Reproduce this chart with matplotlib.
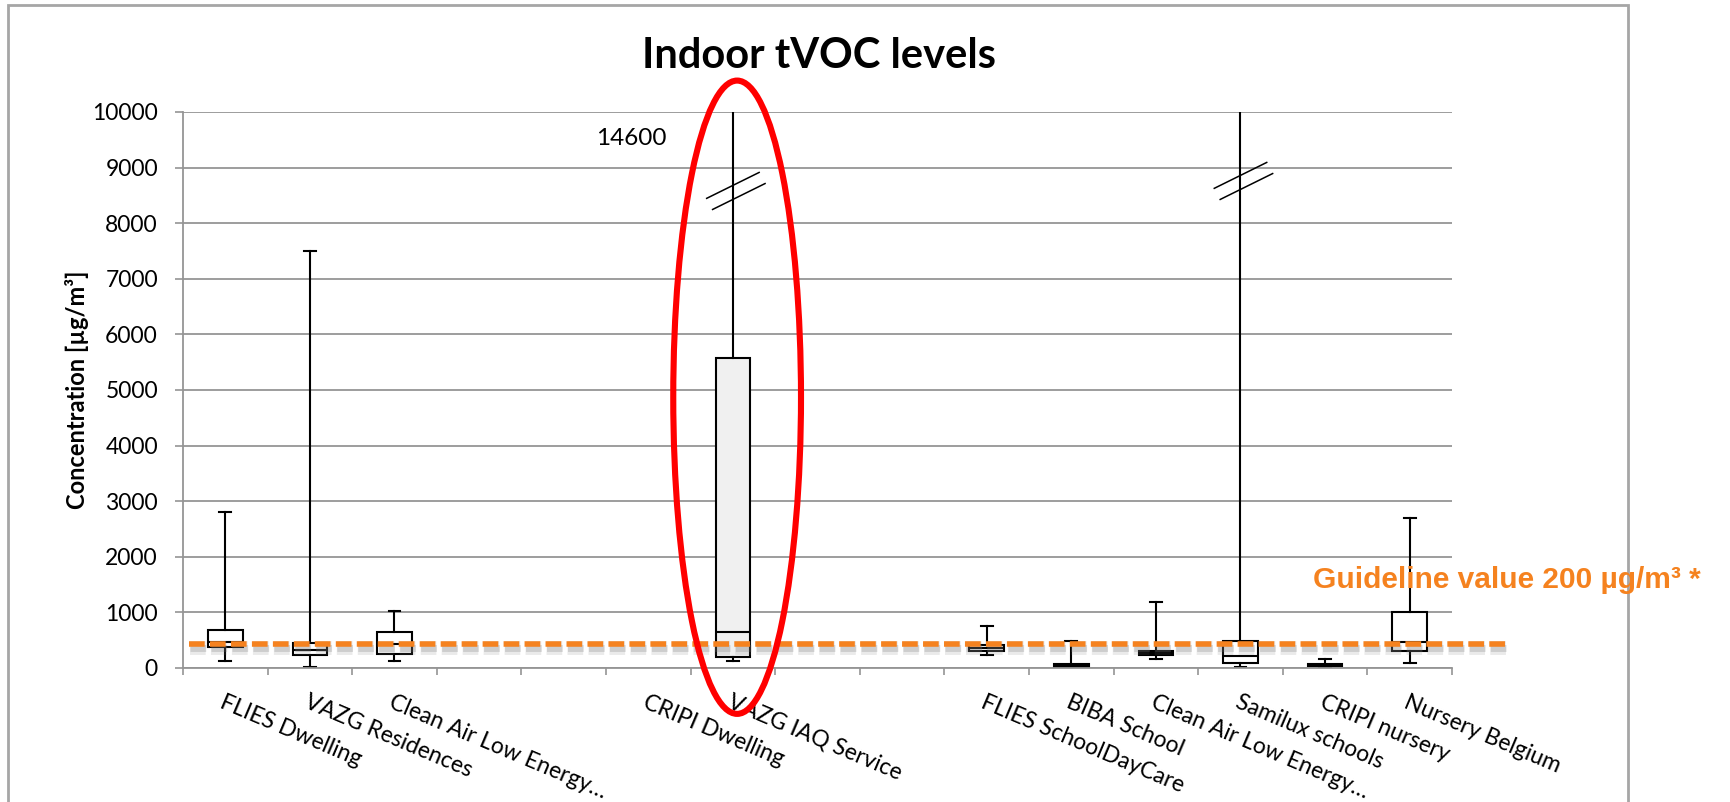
import numpy as np
import matplotlib
matplotlib.use('Agg')
import matplotlib.pyplot as plt
import matplotlib.patheffects as pe
from matplotlib.patches import Ellipse, Rectangle

# data (None = no box drawn for that slot)
categories = ['FLIES Dwelling', 'VAZG Residences', 'Clean Air Low Energy…', '', '',
              'CRIPI Dwelling', 'VAZG IAQ Service', '', '',
              'FLIES SchoolDayCare', 'BIBA School', 'Clean Air Low Energy…',
              'Samilux schools', 'CRIPI nursery', 'Nursery Belgium']
whis_lo = [130, 10, 130, None, None, None, 130, None, None, 240, 10, 170, 20, 20, 90]
q1 = [370, 230, 250, None, None, None, 200, None, None, 300, 25, 230, 90, 30, 310]
median = [470, 320, 430, None, None, None, 650, None, None, 360, 45, 270, 215, 55, 465]
q3 = [680, 450, 650, None, None, None, 5575, None, None, 420, 65, 310, 490, 80, 1010]
whis_hi = [2800, 7500, 1030, None, None, None, 14600, None, None, 760, 490, 1180, 12500, 170, 2700]
box_fill = ['white', 'white', 'white', None, None, None, '#f0f0f0', None, None,
            'white', 'white', 'white', 'white', 'white', 'white']

guideline = 440
guide_text = 'Guideline value 200 µg/m³ *'
orange = '#F5821F'
grid_col = '#959595'

plt.rcParams['font.family'] = ['Lato', 'DejaVu Sans']
plt.rcParams['lines.scale_dashes'] = False

W, H = 1731, 802
fig = plt.figure(figsize=(W / 100, H / 100), dpi=100)
ax = fig.add_axes([183 / W, 1 - 668 / H, (1452 - 183) / W, (668 - 112) / H])

stats, pos, fills = [], [], []
for i in range(len(categories)):
    if whis_lo[i] is None:
        continue
    stats.append(dict(med=median[i], q1=q1[i], q3=q3[i],
                      whislo=whis_lo[i], whishi=whis_hi[i], fliers=[]))
    pos.append(i + 1)
    fills.append(box_fill[i])

bp = ax.bxp(stats, positions=pos, widths=0.41, capwidths=0.14, patch_artist=True,
            showfliers=False,
            boxprops=dict(edgecolor='black', linewidth=1.5),
            whiskerprops=dict(color='black', linewidth=1.5),
            capprops=dict(color='black', linewidth=1.5),
            medianprops=dict(color='black', linewidth=1.5))
for patch, fc in zip(bp['boxes'], fills):
    patch.set_facecolor(fc)

ax.set_xlim(0.5, len(categories) + 0.5)
ax.set_ylim(0, 10000)
ax.set_yticks(np.arange(0, 10001, 1000))
ax.yaxis.grid(True, color=grid_col, lw=1.3)
ax.set_axisbelow(True)
ax.tick_params(axis='y', length=6, width=1.2, color=grid_col, pad=12, labelsize=16.5)

ax.set_xticks(np.arange(1, len(categories) + 1))
ax.set_xticklabels(categories, rotation=-23, ha='left', va='top',
                   rotation_mode='anchor', fontsize=16.5)
ax.set_xticks(np.arange(0.5, len(categories) + 1), minor=True)
ax.tick_params(axis='x', which='major', length=0, pad=17)
ax.tick_params(axis='x', which='minor', length=5, width=1.2, color=grid_col)

for s in ['top', 'right']:
    ax.spines[s].set_visible(False)
for s in ['left', 'bottom']:
    ax.spines[s].set_color(grid_col)
    ax.spines[s].set_linewidth(1.3)

ax.set_ylabel('Concentration [µg/m³]', fontsize=17, fontweight='bold')
ax.yaxis.set_label_coords(-0.074, 0.5)

# guideline with a soft shadow underneath
ax.plot([0.005, 1.042], [guideline, guideline], transform=ax.get_yaxis_transform(),
        color=orange, lw=4, dashes=(11.3, 3.8), solid_capstyle='butt',
        clip_on=False, zorder=5,
        path_effects=[pe.SimpleLineShadow(offset=(0.5, -3), shadow_color='#777777',
                                          alpha=0.15, linewidth=10),
                      pe.SimpleLineShadow(offset=(0.5, -3), shadow_color='#777777',
                                          alpha=0.25, linewidth=5),
                      pe.Normal()])
fig.text(1313 / W, 1 - 580 / H, guide_text, family=['Liberation Sans', 'DejaVu Sans'],
         fontweight='bold', fontsize=21.5, color=orange, ha='left', va='center')

# broken-axis marks on the whiskers going off the chart
for p, lev in [(7, 8580), (13, 8760)]:
    for dx, dy in [(0.0, 100), (0.07, -100)]:
        ax.plot([p + dx - 0.31, p + dx + 0.31], [lev + dy - 233, lev + dy + 233],
                color='black', lw=1.1, clip_on=False, zorder=4)

ax.text(6.21, 9520, str(whis_hi[6]), ha='right', va='center', fontsize=17.5)

ax.add_patch(Ellipse((7.05, 4870), 1.51, 11390, fill=False, edgecolor='#ff0000',
                     lw=4.4, clip_on=False, zorder=6))

fig.text(819 / W, 1 - 68 / H, 'Indoor tVOC levels', ha='center', va='baseline',
         fontsize=30, fontweight='bold')

fig.add_artist(Rectangle((8 / W, -0.1), (1628 - 8) / W, 1.1 - 5 / H,
                         transform=fig.transFigure, fill=False,
                         edgecolor='#a6a6a6', lw=2))

fig.savefig('out.png', dpi=100)
